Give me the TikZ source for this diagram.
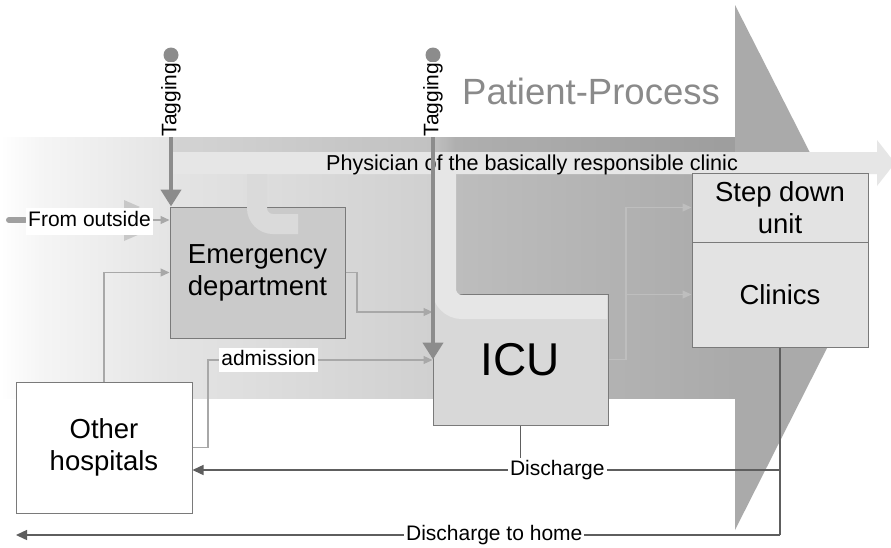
\documentclass[tikz,border=0pt]{standalone}
\usepackage{fontspec}
\setmainfont{Liberation Sans}
\usetikzlibrary{arrows.meta}
\definecolor{g1}{HTML}{F5F5F5}
\definecolor{g2}{HTML}{E4E4E4}
\definecolor{g3}{HTML}{D0D0D0}
\definecolor{g4}{HTML}{BDBDBD}
\definecolor{g5}{HTML}{AAAAAA}
\definecolor{bandc}{HTML}{E6E6E6}
\definecolor{hookc}{HTML}{DADADA}
\definecolor{edc}{HTML}{CACACA}
\definecolor{icuc}{HTML}{D8D8D8}
\definecolor{stepc}{HTML}{E3E3E3}
\definecolor{boxline}{HTML}{7A7A7A}
\definecolor{lconnc}{HTML}{A8A8A8}
\definecolor{lconnrc}{HTML}{BEBEBE}
\definecolor{dconnc}{HTML}{5E5E5E}
\definecolor{tagc}{HTML}{8C8C8C}
\definecolor{ghostc}{HTML}{C8C8C8}
\definecolor{stubc}{HTML}{A0A0A0}
\definecolor{ppc}{HTML}{8A8A8A}
\newcommand\boxfont{\fontsize{27.5}{32}\selectfont}
\newcommand\labfont{\fontsize{21}{25}\selectfont}
\newcommand\physfont{\fontsize{21.6}{25}\selectfont}
\newcommand\icufont{\fontsize{46}{50}\selectfont}
\newcommand\ppfont{\fontsize{36.5}{40}\selectfont}
\begin{document}
\begin{tikzpicture}[x=1pt,y=-1pt,
  box/.style={draw=boxline, line width=1pt, align=center, inner sep=0pt, font=\boxfont},
  lab/.style={fill=white, inner xsep=2pt, inner ysep=2pt, font=\labfont, text height=15pt, text depth=4.5pt},
  lconn/.style={draw=lconnc, line width=1.2pt, -{Triangle[width=8pt,length=9pt]}},
  lconnr/.style={draw=lconnrc, line width=1.2pt, -{Triangle[width=8pt,length=9pt]}},
  dline/.style={draw=dconnc, line width=1.4pt},
  dconn/.style={dline, -{Triangle[width=10pt,length=11pt]}},
  tag/.style={draw=tagc, line width=4.5pt, -{Triangle[width=20pt,length=17pt]}},
  band/.style={draw=bandc}
]
\useasboundingbox (0,0) rectangle (891,547);
\fill[white] (0,0) rectangle (891,547);
% big process arrow: body with gradient
\shade[left color=white, right color=g1] (0,137) rectangle (40.5,398);
\shade[left color=g1, right color=g2] (40,137) rectangle (170.5,398);
\shade[left color=g2, right color=g3] (170,137) rectangle (433.5,398);
\shade[left color=g3, right color=g4] (433,137) rectangle (455.5,398);
\shade[left color=g4, right color=g5] (455,137) rectangle (735.5,398);
\fill[g5] (735,5) -- (868,267) -- (735,530) -- cycle;
\fill[black, opacity=0.07] (172,137) rectangle (735,152);
% physician band
\fill[bandc] (172,152) -- (877,152) -- (877,140) -- (895,163) -- (877,186) -- (877,174) -- (172,174) -- cycle;
\node[anchor=base west, inner sep=0pt, text=ppc, font=\ppfont] (pp) at (462,104) {Patient-Process};
% boxes
\node[box, fill=edc, minimum width=175pt, minimum height=131pt] (ed) at (257.5,272.5) {Emergency\\department};
\node[box, fill=icuc, minimum width=175pt, minimum height=131pt, font=\icufont] (icu) at (520.5,359.5) {ICU};
\node[box, fill=stepc, minimum width=176pt, minimum height=69pt] (step) at (780,207.5) {Step down\\unit};
\node[box, fill=stepc, minimum width=176pt, minimum height=105pt] (clin) at (780,294.5) {Clinics};
\node[box, fill=white, minimum width=176pt, minimum height=131pt] (oh) at (104,447.5) {Other\\hospitals};
% physician branches
\draw[draw=hookc, line width=20pt, rounded corners=16pt] (257,174) -- (257,224) -- (298,224);
\draw[band, line width=24pt, rounded corners=18pt] (444,174) -- (444,307) -- (607,307);
\node[anchor=base, inner sep=0pt, font=\physfont] (phys) at (532,170) {Physician of the basically responsible clinic};
% light connectors
\coordinate (b1) at (357,312);
\coordinate (b2) at (208,360);
\coordinate (b3) at (626,359.5);
\draw[lconn] (oh.north) |- (ed.west);
\draw[lconn] (ed.east) -| (b1) -- (b1 -| icu.west);
\draw[lconn] (oh.east) -| (b2) -- node[lab, pos=0.27] (adm) {admission} (b2 -| icu.west);
\draw[lconnr] (icu.east) -- (b3) |- (step.west);
\draw[lconnr] (b3 |- clin.west) -- (clin.west);
% from outside
\coordinate (fo) at (9,220);
\fill[ghostc] (124,200) -- (140,207) -- (124,214) -- cycle;
\fill[ghostc] (124,227) -- (140,234) -- (124,241) -- cycle;
\draw[lconn] (fo) -- (fo -| ed.west);
\draw[stubc, line width=6pt, line cap=round] (fo) -- ++(16,0);
\node[lab, anchor=west, inner ysep=3.75pt] (fol) at (26,221) {From outside};
% discharges
\coordinate (dj) at (780,470);
\coordinate (dh) at (780,535);
\coordinate (home) at (16,535);
\draw[dline] (clin.south) -- (dh);
\draw[dline] (icu.south) -- (icu.south |- dj);
\draw[dconn] (dj) -- node[lab, pos=0.379] (dis) {Discharge} (dj -| oh.east);
\draw[dconn] (dh) -- node[lab, pos=0.374] (dish) {Discharge to home} (home);
% tagging
\coordinate (t1) at (171,55);
\coordinate (t2) at (433,55);
\fill[tagc] (t1) circle[radius=7.5pt];
\fill[tagc] (t2) circle[radius=7.5pt];
\draw[tag] (t1) -- (t1 |- ed.north);
\draw[tag] (t2) -- (t2 |- icu.west);
\node[lab, rotate=90, inner xsep=1pt, inner ysep=1pt] (tg1) at (171,99.5) {Tagging};
\node[lab, rotate=90, inner xsep=1pt, inner ysep=1pt] (tg2) at (433,99.5) {Tagging};
\end{tikzpicture}
\end{document}
